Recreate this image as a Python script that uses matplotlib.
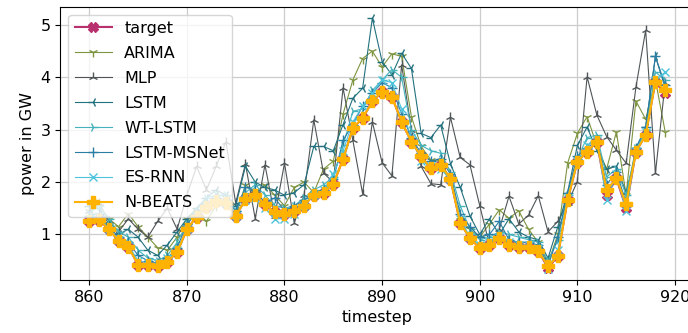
import matplotlib
matplotlib.use("Agg")
import matplotlib.pyplot as plt
import numpy as np

timesteps = list(range(860, 920))

target = [1.25, 1.28, 1.10, 0.88, 0.77, 0.42, 0.42, 0.39, 0.48, 0.66,
          1.10, 1.34, 1.53, 1.63, 1.60, 1.35, 1.67, 1.75, 1.58, 1.42,
          1.40, 1.45, 1.55, 1.76, 1.79, 1.96, 2.44, 3.03, 3.22, 3.54,
          3.72, 3.63, 3.15, 2.77, 2.49, 2.26, 2.33, 2.06, 1.22, 0.93,
          0.74, 0.80, 0.93, 0.80, 0.77, 0.77, 0.69, 0.36, 0.59, 1.66,
          2.39, 2.58, 2.77, 1.75, 2.07, 1.50, 2.58, 2.90, 3.92, 3.70]

arima = [1.45, 1.55, 1.30, 1.15, 1.40, 1.15, 0.95, 0.75, 0.70, 0.95,
         1.30, 1.45, 1.25, 1.55, 1.70, 1.35, 1.95, 1.80, 1.95, 1.75,
         1.55, 1.90, 2.00, 1.80, 2.25, 2.40, 3.30, 3.95, 4.36, 4.50,
         4.20, 4.45, 4.40, 3.25, 2.68, 2.42, 2.40, 2.05, 1.28, 1.10,
         0.95, 1.20, 1.47, 1.31, 1.45, 1.10, 0.85, 0.45, 1.00, 2.36,
         2.93, 3.25, 2.70, 2.25, 2.96, 1.75, 3.55, 3.20, 3.95, 2.96]

mlp = [1.45, 1.60, 1.25, 1.05, 1.30, 1.10, 0.95, 1.25, 1.50, 1.10,
       1.75, 2.30, 1.85, 2.30, 2.77, 1.60, 2.35, 1.30, 2.33, 1.35,
       2.36, 1.22, 1.75, 3.19, 2.17, 2.00, 3.80, 2.80, 1.78, 3.15,
       2.37, 2.12, 4.24, 3.00, 2.30, 1.97, 1.95, 3.24, 2.47, 2.33,
       1.55, 0.80, 1.10, 1.73, 1.20, 1.37, 1.74, 1.05, 1.25, 1.60,
       2.01, 4.01, 3.28, 2.87, 2.61, 2.36, 3.81, 4.90, 2.17, 3.90]

lstm = [1.55, 1.50, 1.20, 1.00, 1.10, 0.95, 0.70, 0.60, 0.80, 1.05,
        1.30, 1.50, 1.70, 1.85, 1.75, 1.55, 2.30, 2.00, 1.90, 1.85,
        1.75, 1.80, 1.95, 2.68, 2.68, 2.60, 3.10, 3.60, 3.79, 5.13,
        4.30, 4.05, 4.46, 4.17, 2.93, 2.85, 3.09, 2.35, 1.90, 1.35,
        1.00, 1.30, 1.00, 1.30, 1.05, 0.95, 0.90, 0.55, 1.15, 1.80,
        2.70, 3.05, 2.60, 2.25, 2.30, 1.80, 2.55, 3.05, 4.40, 3.80]

wt_lstm = [1.40, 1.55, 1.30, 1.05, 0.95, 0.70, 0.55, 0.50, 0.60, 0.85,
           1.20, 1.45, 1.70, 1.75, 1.75, 1.45, 1.80, 1.95, 1.75, 1.55,
           1.50, 1.55, 1.70, 1.85, 1.95, 2.10, 2.70, 3.35, 3.40, 3.75,
           3.95, 4.15, 4.00, 3.00, 2.70, 2.60, 2.55, 2.20, 1.55, 1.10,
           0.90, 0.95, 1.05, 1.00, 0.95, 0.90, 0.85, 0.50, 0.90, 1.75,
           2.45, 2.85, 2.90, 2.10, 2.25, 1.75, 2.65, 3.00, 4.10, 3.95]

lstm_msnet = [1.35, 1.40, 1.15, 0.95, 0.85, 0.60, 0.50, 0.45, 0.55, 0.75,
              1.20, 1.40, 1.60, 1.70, 1.65, 1.45, 1.90, 1.85, 1.60, 1.70,
              1.45, 1.55, 1.65, 1.80, 1.85, 2.05, 2.80, 3.10, 3.45, 3.70,
              3.90, 3.80, 3.30, 2.85, 2.55, 2.40, 2.45, 2.15, 1.40, 1.15,
              0.95, 1.00, 1.25, 0.90, 0.85, 0.85, 0.80, 0.40, 0.95, 1.80,
              2.50, 2.65, 2.80, 1.95, 2.20, 1.60, 2.65, 3.05, 4.40, 3.85]

es_rnn = [1.30, 1.35, 1.10, 0.90, 0.80, 0.50, 0.45, 0.45, 0.55, 0.70,
          1.10, 1.35, 1.55, 1.65, 1.60, 1.35, 1.65, 1.70, 1.50, 1.30,
          1.30, 1.40, 1.55, 1.75, 1.85, 2.15, 2.60, 3.15, 3.45, 3.70,
          3.95, 3.90, 3.40, 2.85, 2.40, 2.30, 2.25, 2.05, 1.30, 0.95,
          0.80, 0.85, 0.95, 0.85, 0.80, 0.80, 0.75, 0.35, 0.70, 1.70,
          2.40, 2.70, 2.80, 1.65, 2.15, 1.45, 2.60, 2.95, 3.95, 4.10]

n_beats = [1.25, 1.28, 1.10, 0.88, 0.77, 0.42, 0.42, 0.39, 0.48, 0.66,
           1.10, 1.34, 1.53, 1.63, 1.60, 1.35, 1.67, 1.75, 1.58, 1.42,
           1.40, 1.45, 1.55, 1.76, 1.79, 1.96, 2.44, 3.03, 3.22, 3.54,
           3.72, 3.63, 3.15, 2.77, 2.49, 2.26, 2.33, 2.06, 1.22, 0.93,
           0.74, 0.80, 0.93, 0.80, 0.77, 0.77, 0.69, 0.39, 0.59, 1.66,
           2.39, 2.58, 2.77, 1.85, 2.07, 1.58, 2.58, 2.90, 3.92, 3.75]

plt.rcParams["font.size"] = 11.5

fig = plt.figure(figsize=(6.88, 3.33), dpi=100)
# axes run a bit past the right edge like in the reference crop
ax = fig.add_axes([0.0879, 0.159, 0.9208, 0.821])

ax.plot(timesteps, target, color="#b8306e", marker="X", markersize=7, linewidth=1.5, label="target")
ax.plot(timesteps, arima, color="#7d9440", marker="1", markersize=7, linewidth=0.8, label="ARIMA")
ax.plot(timesteps, mlp, color="#4f5557", marker="2", markersize=7, linewidth=0.8, label="MLP")
ax.plot(timesteps, lstm, color="#23717e", marker="3", markersize=7, linewidth=0.8, label="LSTM")
ax.plot(timesteps, wt_lstm, color="#45b3bb", marker="4", markersize=7, linewidth=0.8, label="WT-LSTM")
ax.plot(timesteps, lstm_msnet, color="#2a7da3", marker="+", markersize=7, linewidth=0.8, label="LSTM-MSNet")
ax.plot(timesteps, es_rnn, color="#4dc3dc", marker="x", markersize=6, linewidth=0.8, label="ES-RNN")
ax.plot(timesteps, n_beats, color="#ffb300", marker="P", markersize=9, linewidth=1.5, label="N-BEATS")

ax.set_xlim(857.05, 921.95)
ax.set_ylim(0.13, 5.35)
ax.set_xticks(range(860, 930, 10))
ax.set_yticks([1, 2, 3, 4, 5])
ax.grid(True, color="#cccccc", linewidth=0.9)
ax.set_xlabel("timestep")
ax.set_ylabel("power in GW")
ax.legend(loc="upper left", handlelength=2.3, labelspacing=0.62)

fig.savefig("out.png", dpi=100)
